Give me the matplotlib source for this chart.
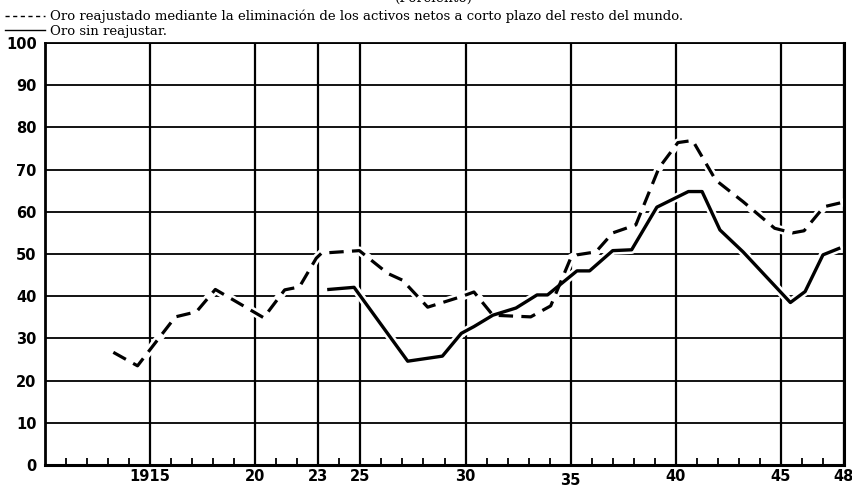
import matplotlib
matplotlib.use('Agg')
import matplotlib.pyplot as plt
from matplotlib.transforms import ScaledTranslation

# Oro reajustado (linea de trazos)
years_adj = [1913.25, 1914.4, 1916.2, 1917.2, 1918.1, 1919.2, 1920.4, 1921.4, 1922.1,
             1922.9, 1923.15, 1924.95, 1926.3, 1927.0, 1928.2, 1929.8, 1930.4, 1931.3,
             1933.1, 1934.05, 1935.0, 1935.3, 1936.2, 1937.0, 1938.1, 1939.2, 1940.1,
             1940.8, 1941.9, 1943.2, 1944.7, 1945.55, 1946.1, 1947.05, 1947.9]
vals_adj = [26.7, 23.5, 35.1, 36.3, 41.6, 38.4, 34.9, 41.5, 42.2,
            49.0, 50.2, 50.8, 45.4, 43.8, 37.4, 39.9, 41.0, 35.5,
            35.1, 37.7, 49.0, 49.8, 50.5, 55.0, 56.9, 70.4, 76.4,
            76.9, 67.5, 62.4, 56.1, 55.0, 55.5, 61.2, 62.2]

# Oro sin reajustar (linea continua)
years_raw = [1923.5, 1924.7, 1927.25, 1928.9, 1929.8, 1930.4, 1931.3, 1932.4, 1933.4,
             1933.9, 1935.3, 1935.9, 1937.0, 1937.9, 1939.1, 1940.6, 1941.25, 1942.1,
             1943.2, 1945.45, 1946.15, 1947.0, 1947.75]
vals_raw = [41.6, 42.1, 24.6, 25.8, 31.2, 32.8, 35.5, 37.2, 40.3,
            40.3, 46.0, 46.0, 50.8, 51.0, 61.1, 64.8, 64.8, 55.7,
            50.5, 38.5, 41.1, 49.8, 51.3]

xticks = [1915, 1920, 1923, 1925, 1930, 1935, 1940, 1945, 1948]
xlabels = ['1915', '20', '23', '25', '30', '35', '40', '45', '48']
yticks = list(range(0, 101, 10))

fig = plt.figure(figsize=(8.53, 4.87), dpi=100)
ax = fig.add_axes([45/853, 22/487, 799/853, 422/487])

ax.set_xlim(1910, 1948)
ax.set_ylim(0, 100)

# cuadricula
for yv in yticks[1:]:
    ax.axhline(yv, color='black', lw=1.3, zorder=1)
for xv in xticks:
    ax.axvline(xv, color='black', lw=1.6, zorder=1)

# halo blanco para cortar la cuadricula
ax.plot(years_adj, vals_adj, color='white', lw=6, zorder=2, solid_capstyle='round')
ax.plot(years_raw, vals_raw, color='white', lw=6, zorder=2, solid_capstyle='round')

ax.plot(years_adj, vals_adj, color='black', lw=2.3, zorder=3,
        linestyle=(0, (4.5, 2.6)))
ax.plot(years_raw, vals_raw, color='black', lw=2.4, zorder=3)

for s in ax.spines.values():
    s.set_color('black')
ax.spines['left'].set_linewidth(2.0)
ax.spines['bottom'].set_linewidth(2.2)
ax.spines['right'].set_linewidth(2.2)
ax.spines['top'].set_linewidth(1.3)

ax.set_xticks(xticks)
ax.set_xticklabels(xlabels)
ax.set_xticks(range(1911, 1948), minor=True)
ax.tick_params(axis='x', which='major', length=0, pad=3)
ax.tick_params(axis='x', which='minor', direction='in', length=5, width=1.3)
ax.set_yticks(yticks)
ax.tick_params(axis='y', length=0, pad=6)
for lab in ax.get_xticklabels() + ax.get_yticklabels():
    lab.set_fontfamily('DejaVu Sans')
    lab.set_fontweight('bold')
    lab.set_fontsize(10.5)
# el "35" del original esta algo mas bajo
for lab in ax.get_xticklabels():
    if lab.get_text() == '35':
        lab.set_transform(lab.get_transform() + ScaledTranslation(0, -4/100, fig.dpi_scale_trans))

# leyenda en texto
serif = 'DejaVu Serif'
fig.text(395/853, 1 - 2/487, '(Porciento)', family=serif, fontsize=10,
         ha='left', va='baseline')
fig.lines.append(plt.Line2D([5/853, 45/853], [1 - 16/487, 1 - 16/487], transform=fig.transFigure,
                            color='black', lw=1.0, linestyle=(0, (3, 2.5))))
fig.text(50/853, 1 - 16/487, 'Oro reajustado mediante la eliminación de los activos netos a corto plazo del resto del mundo.',
         family=serif, fontsize=9.5, ha='left', va='center')
fig.lines.append(plt.Line2D([5/853, 45/853], [1 - 30/487, 1 - 30/487], transform=fig.transFigure,
                            color='black', lw=1.0))
fig.text(50/853, 1 - 32/487, 'Oro sin reajustar.', family=serif, fontsize=9.5,
         ha='left', va='center')

fig.savefig('out.png', dpi=100)
